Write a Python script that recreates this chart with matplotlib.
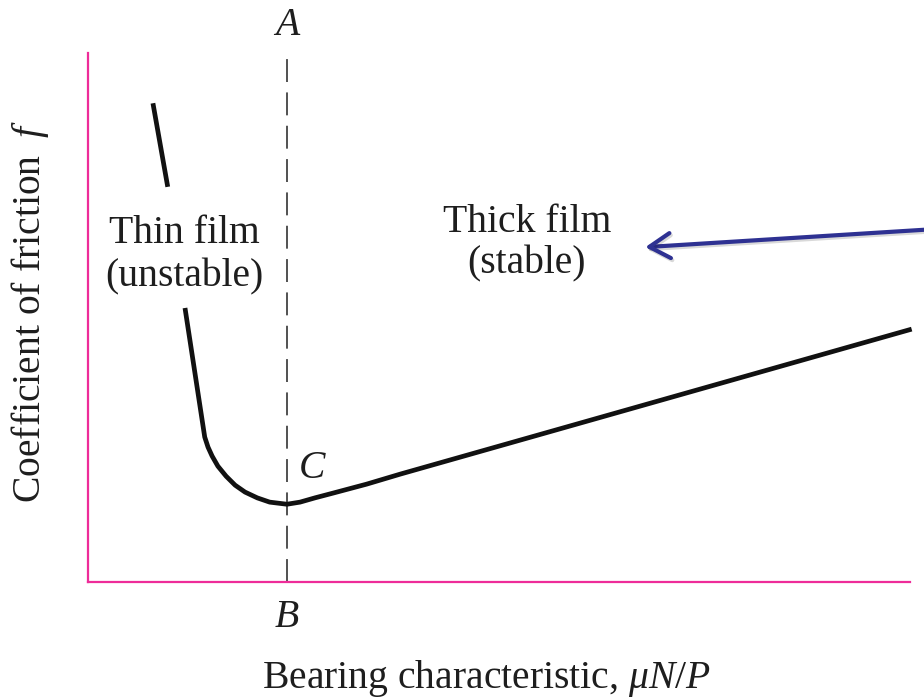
import matplotlib
matplotlib.use("Agg")
import matplotlib.pyplot as plt
import matplotlib.patheffects as pe

plt.rcParams["font.family"] = ["Liberation Serif", "DejaVu Serif"]
plt.rcParams["mathtext.fontset"] = "custom"
plt.rcParams["mathtext.rm"] = "Liberation Serif"
plt.rcParams["mathtext.it"] = "Liberation Serif:italic"
plt.rcParams["mathtext.bf"] = "Liberation Serif:bold"
plt.rcParams["lines.scale_dashes"] = False

# Friction curve (Stribeck-type), arbitrary units
thin_upper_x = [0.79, 0.97]
thin_upper_f = [9.05, 7.47]

curve_x = [1.18, 1.30, 1.42, 1.46, 1.51, 1.58, 1.68, 1.79,
           1.91, 2.06, 2.21, 2.42, 2.58, 2.76, 2.98, 3.39, 3.80, 10.02]
curve_f = [5.18, 3.96, 2.74, 2.55, 2.38, 2.19, 2.00, 1.83,
           1.70, 1.59, 1.51, 1.47, 1.51, 1.59, 1.68, 1.85, 2.04, 4.78]

# Minimum-friction boundary line A-B through point C
boundary_x = 2.42

# Annotation anchors
arrow_tip = (6.78, 6.33)
arrow_tail = (10.6, 6.70)

AXIS_COLOR = "#EE2C99"
ARROW_COLOR = "#2E3192"
TEXT_COLOR = "#1E1E1E"
FS = 28.5

fig = plt.figure(figsize=(9.24, 7.0), dpi=100)
ax = fig.add_axes([88 / 924, 118 / 700, 822 / 924, 529 / 700])
ax.set_xlim(0, 10)
ax.set_ylim(0, 10)

for side in ("top", "right"):
    ax.spines[side].set_visible(False)
for side in ("left", "bottom"):
    ax.spines[side].set_color(AXIS_COLOR)
    ax.spines[side].set_linewidth(1.6)
ax.set_xticks([])
ax.set_yticks([])

# Dashed boundary
ax.axvline(boundary_x, color="#222222", lw=1.1, dashes=(16.5, 7.5), zorder=2)

# Curve segments
ax.plot(thin_upper_x, thin_upper_f, color="#111111", lw=3.4,
        solid_capstyle="butt", zorder=3)
ax.plot(curve_x, curve_f, color="#111111", lw=3.4, solid_capstyle="butt",
        solid_joinstyle="round", clip_on=False, zorder=3)

# Region labels
ax.text(1.17, 6.41, "Thin film", ha="center", va="baseline", fontsize=FS,
        color=TEXT_COLOR)
ax.text(1.17, 5.58, "(unstable)", ha="center", va="baseline", fontsize=FS,
        color=TEXT_COLOR)
ax.text(5.34, 6.62, "Thick film", ha="center", va="baseline", fontsize=FS,
        color=TEXT_COLOR)
ax.text(5.34, 5.84, "(stable)", ha="center", va="baseline", fontsize=FS,
        color=TEXT_COLOR)

# Point labels
ax.text(boundary_x, 10.34, "A", ha="center", va="baseline", fontsize=FS,
        fontstyle="italic", color=TEXT_COLOR, clip_on=False)
ax.text(boundary_x, -0.85, "B", ha="center", va="baseline", fontsize=FS,
        fontstyle="italic", color=TEXT_COLOR, clip_on=False)
ax.text(2.73, 1.97, "C", ha="center", va="baseline", fontsize=FS,
        fontstyle="italic", color=TEXT_COLOR)

# Axis titles
ax.text(-0.0706, 0.512, r"Coefficient of friction $\;f$", transform=ax.transAxes,
        rotation=90, ha="center", va="center", fontsize=FS, color=TEXT_COLOR)
ax.text(0.2117, -0.2004, r"Bearing characteristic, $\mu N/P$",
        transform=ax.transAxes, ha="left", va="baseline", fontsize=FS,
        color=TEXT_COLOR)

# Pointer arrow
ax.annotate("", xy=arrow_tip, xytext=arrow_tail, annotation_clip=False,
            arrowprops=dict(arrowstyle="->,head_length=0.75,head_width=0.45",
                            mutation_scale=20, color=ARROW_COLOR, lw=3.0,
                            shrinkA=0, shrinkB=0, capstyle="round",
                            joinstyle="round",
                            path_effects=[pe.SimpleLineShadow(offset=(1, -1.5),
                                                              alpha=0.15),
                                          pe.Normal()]))

fig.savefig("out.png", dpi=100)
